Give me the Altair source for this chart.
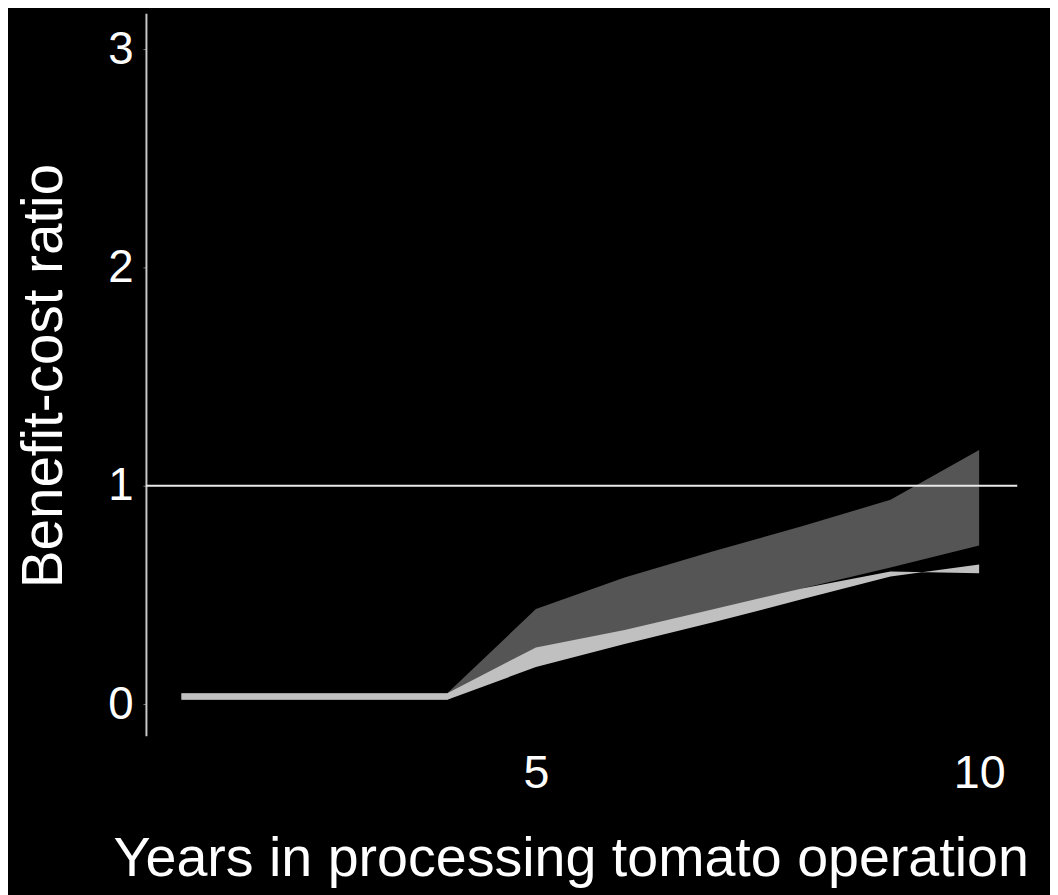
import altair as alt
import pandas as pd

years = [1, 2, 3, 4, 5, 6, 7, 8, 9, 10]
dark_lo = [0.02, 0.02, 0.02, 0.02, 0.22, 0.31, 0.41, 0.53, 0.626, 0.727]
dark_hi = [0.05, 0.05, 0.05, 0.05, 0.436, 0.58, 0.70, 0.815, 0.936, 1.164]
light_lo = [0.02, 0.02, 0.02, 0.02, 0.17, 0.275, 0.375, 0.48, 0.585, 0.64]
light_hi = [0.05, 0.05, 0.05, 0.05, 0.26, 0.34, 0.435, 0.53, 0.608, 0.60]
ref_value = 1
x_ticks = [5, 10]
y_ticks = [0, 1, 2, 3]

df = pd.DataFrame({
    "year": years,
    "dark_lo": dark_lo,
    "dark_hi": dark_hi,
    "light_lo": light_lo,
    "light_hi": light_hi,
})

FONT = "Liberation Sans"

x_scale = alt.Scale(domain=[0.6, 10.43], nice=False, zero=False)
y_scale = alt.Scale(domain=[-0.145, 3.164], nice=False, zero=False)

x_axis = alt.Axis(
    values=x_ticks, domain=False, ticks=False, grid=False,
    labelFontSize=47, labelColor="white", labelFont=FONT, labelPadding=15,
    title="Years in processing tomato operation",
    titleFontSize=56, titleFont=FONT, titleColor="white", titleFontWeight="normal",
    titleX=428, titleY=141, titleAlign="center", titleBaseline="alphabetic",
)
y_axis = alt.Axis(
    values=y_ticks, domain=True, domainColor="#c8c8c8", domainWidth=2,
    ticks=True, tickSize=3, tickColor="#777777", grid=False,
    labelFontSize=46, labelColor="white", labelFont=FONT, labelPadding=10,
    title="Benefit-cost ratio",
    titleFontSize=57, titleFont=FONT, titleColor="white", titleFontWeight="normal",
    titleX=-85, titleY=365, titleAngle=-90, titleAlign="center", titleBaseline="alphabetic",
)

base = alt.Chart(df)

dark = base.mark_area(color="#555555").encode(
    x=alt.X("year:Q", scale=x_scale, axis=x_axis),
    y=alt.Y("dark_lo:Q", scale=y_scale, axis=y_axis),
    y2="dark_hi:Q",
)
light = base.mark_area(color="#c0c0c0").encode(
    x=alt.X("year:Q", scale=x_scale, axis=x_axis),
    y=alt.Y("light_lo:Q", scale=y_scale, axis=y_axis),
    y2="light_hi:Q",
)
rule = alt.Chart(pd.DataFrame({"r": [ref_value]})).mark_rule(
    color="#e8e8e8", strokeWidth=2
).encode(
    y=alt.Y("r:Q", scale=y_scale, axis=y_axis),
)

chart = alt.layer(dark, light, rule).properties(
    width=878,
    height=728,
    autosize=alt.AutoSizeParams(type="none"),
    padding={"left": 139, "top": 2, "right": 33, "bottom": 157},
    background="black",
).configure_view(stroke=None)

chart.save("out.html", embed_options={"renderer": "svg", "actions": False})
